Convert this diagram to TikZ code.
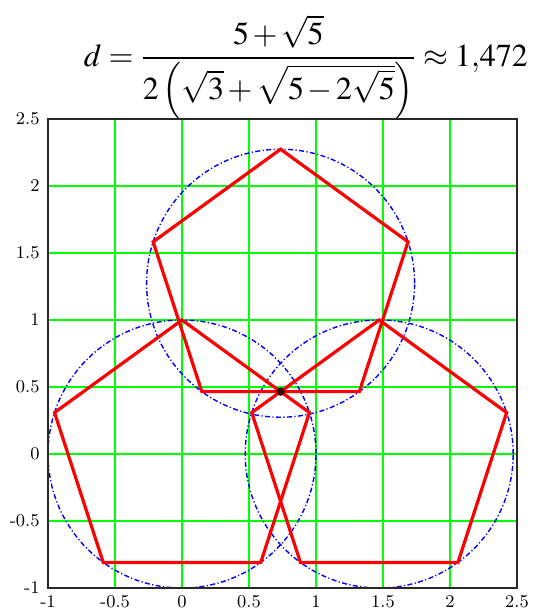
\documentclass[tikz,border=0pt]{standalone}
\usepackage{mathptmx}
\usepackage{graphicx}
\usetikzlibrary{calc}
\definecolor{gridgreen}{RGB}{0,255,0}
\definecolor{plotred}{RGB}{255,0,0}
\definecolor{circblue}{RGB}{0,0,255}
\definecolor{dotdark}{RGB}{60,0,0}
\definecolor{framegray}{RGB}{40,40,40}
\tikzset{
  gridline/.style={color=gridgreen, line width=0.9bp},
  frame/.style={draw=framegray, line width=1bp},
  pent/.style={color=plotred, line width=1.6bp, line join=miter},
  circ/.style={color=circblue, line width=0.7bp,
    dash pattern=on 2.5bp off 1.2bp on 0.6bp off 1.2bp},
  ticklbl/.style={font=\fontsize{9}{10}\selectfont, inner sep=0pt}
}

\begin{document}
\begin{tikzpicture}[x=67bp, y=67bp]
  \useasboundingbox (-1.3582,-1.1791) rectangle (2.6343,3.3881);
  \pgfmathsetmacro\dd{1.47159}
  \pgfmathsetmacro\hh{\dd*sin(60)}
  \pgfmathsetmacro\dy{\hh-cos(36)}

  \node[inner sep=0pt, font=\fontsize{18}{22}\selectfont] (formula) at (0.925,2.884)
    {\resizebox*{222bp}{52.5bp}{$\thickmuskip=4mu\medmuskip=2mu
      \displaystyle d=\frac{5+\sqrt{5}}{2\left(\sqrt{3}+\sqrt{5-2\sqrt{5}}\right)}\approx 1{,}472$}};

  \coordinate (ll) at (-1,-1);
  \coordinate (ur) at (2.5,2.5);
  \coordinate (cL) at (0,0);
  \coordinate (cR) at (\dd,0);
  \coordinate (cT) at (\dd/2,\hh);
  \coordinate (meet) at (\dd/2,\dy);

  \foreach \v in {-0.5,0,0.5,1,1.5,2} {
    \draw[gridline] (\v,-1) -- (\v,2.5);
    \draw[gridline] (-1,\v) -- (2.5,\v);
  }

  \begin{scope}
    \clip (ll) rectangle (ur);
    \foreach \c in {cL,cR,cT} {
      \draw[circ] (\c) circle[radius=1];
    }
    \foreach \c in {cL,cR,cT} {
      \draw[pent] ($(\c)+(90:1)$) -- ($(\c)+(162:1)$) -- ($(\c)+(234:1)$)
        -- ($(\c)+(306:1)$) -- ($(\c)+(18:1)$) -- cycle;
    }
  \end{scope}
  \fill[dotdark] (meet) circle[radius=2.1bp];

  \draw[frame] (ll) rectangle (ur);

  \foreach \v [count=\i] in {-1,-0.5,0,0.5,1,1.5,2,2.5} {
    \node[ticklbl, anchor=north] (xt\i) at (\v,-1.05) {\v};
    \node[ticklbl, anchor=east] (yt\i) at (-1.06,\v) {\v};
  }
\end{tikzpicture}
\end{document}
